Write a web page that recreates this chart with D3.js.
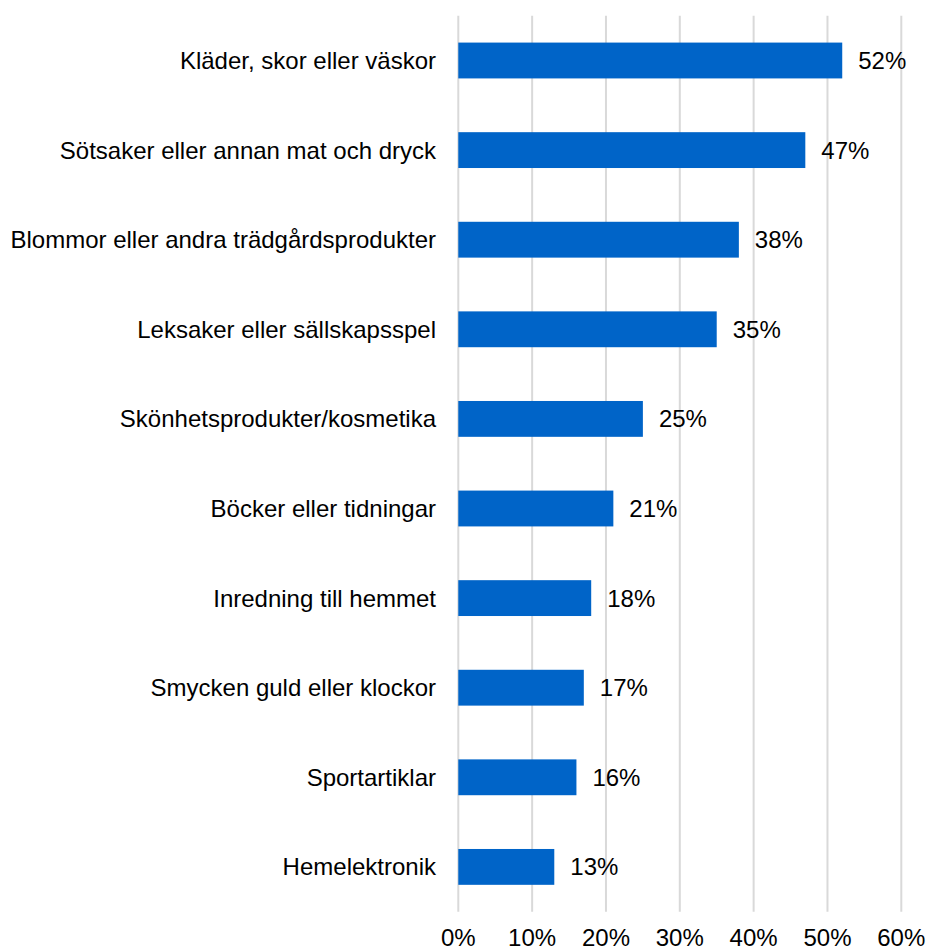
<!DOCTYPE html>
<html>
<head>
<meta charset="utf-8">
<script src="https://cdn.jsdelivr.net/npm/d3@7"></script>
<style>
  html, body { margin: 0; padding: 0; background: #fff; }
  svg { display: block; }
  text { font-family: Arial, "Liberation Sans", sans-serif; fill: #000; }
</style>
</head>
<body>
<svg id="chart" width="927" height="951"></svg>
<script>
const categories = [
  "Kläder, skor eller väskor",
  "Sötsaker eller annan mat och dryck",
  "Blommor eller andra trädgårdsprodukter",
  "Leksaker eller sällskapsspel",
  "Skönhetsprodukter/kosmetika",
  "Böcker eller tidningar",
  "Inredning till hemmet",
  "Smycken guld eller klockor",
  "Sportartiklar",
  "Hemelektronik"
];
const values = [52, 47, 38, 35, 25, 21, 18, 17, 16, 13];
const tickValues = [0, 10, 20, 30, 40, 50, 60];

const svg = d3.select("#chart");
const x = d3.scaleLinear().domain([0, 60]).range([458.3, 901.3]);
const y = d3.scaleBand().domain(categories).range([15.7, 911.7])
  .paddingInner(0.6).paddingOuter(0.3);

const fs = 24;

// gridlines
svg.append("g").selectAll("line").data(tickValues).join("line")
  .attr("x1", d => x(d)).attr("x2", d => x(d))
  .attr("y1", 15.7).attr("y2", 911.7)
  .attr("stroke", "#d9d9d9").attr("stroke-width", 2);

// bars
const data = categories.map((c, i) => ({ c, v: values[i] }));
svg.append("g").selectAll("rect").data(data).join("rect")
  .attr("x", x(0)).attr("y", d => y(d.c))
  .attr("width", d => x(d.v) - x(0)).attr("height", y.bandwidth())
  .attr("fill", "#0064c8");

// value labels
svg.append("g").selectAll("text").data(data).join("text")
  .attr("x", d => x(d.v) + 16)
  .attr("y", d => y(d.c) + y.bandwidth() / 2)
  .attr("dy", "0.35em")
  .attr("font-size", fs)
  .text(d => d.v + "%");

// category labels
svg.append("g").selectAll("text").data(categories).join("text")
  .attr("x", 436)
  .attr("y", d => y(d) + y.bandwidth() / 2)
  .attr("dy", "0.35em")
  .attr("text-anchor", "end")
  .attr("font-size", fs)
  .text(d => d);

// x tick labels
svg.append("g").selectAll("text").data(tickValues).join("text")
  .attr("x", d => x(d))
  .attr("y", 946)
  .attr("text-anchor", "middle")
  .attr("font-size", fs)
  .text(d => d + "%");
</script>
</body>
</html>
